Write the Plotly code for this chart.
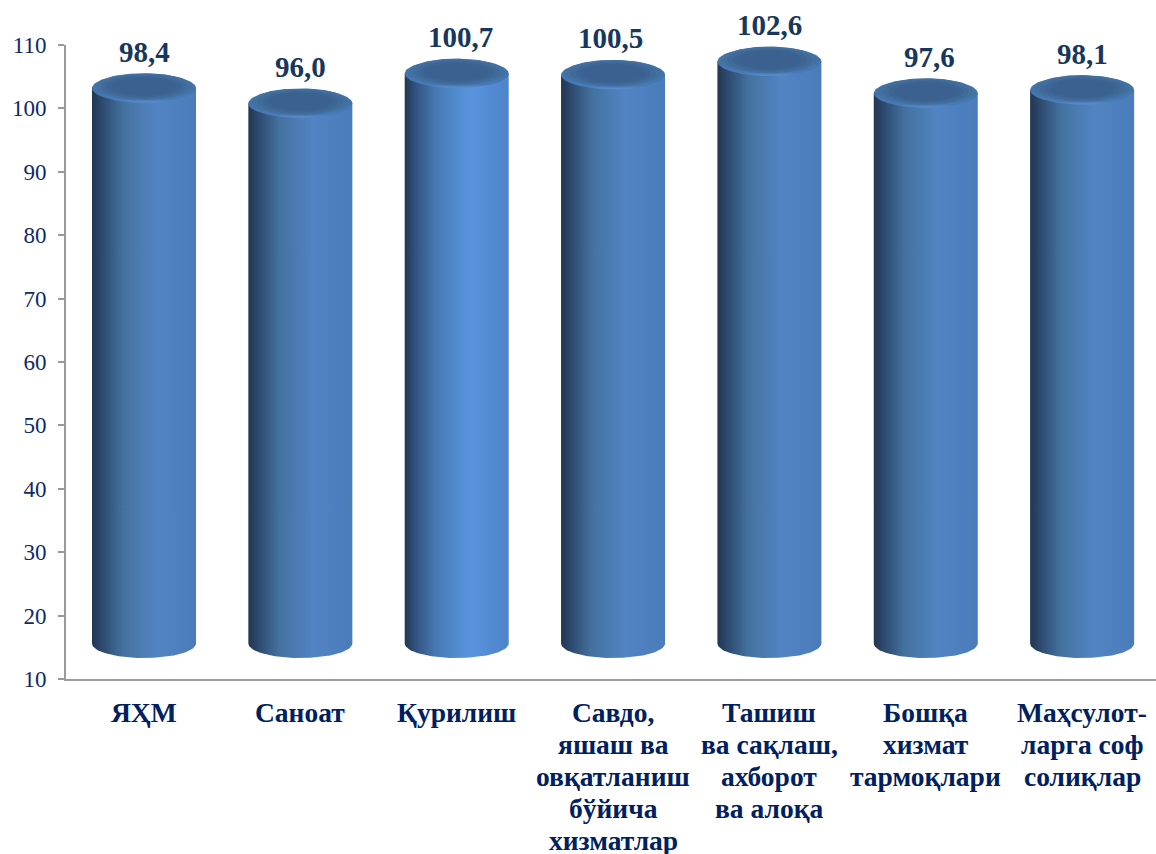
import numpy as np
import plotly.graph_objects as go

category_lines = [
    ["ЯҲМ"],
    ["Саноат"],
    ["Қурилиш"],
    ["Савдо,", "яшаш ва", "овқатланиш", "бўйича", "хизматлар"],
    ["Ташиш", "ва сақлаш,", "ахборот", "ва алоқа"],
    ["Бошқа", "хизмат", "тармоқлари"],
    ["Маҳсулот-", "ларга соф", "солиқлар"],
]
values = [98.4, 96.0, 100.7, 100.5, 102.6, 97.6, 98.1]
labels = ["98,4", "96,0", "100,7", "100,5", "102,6", "97,6", "98,1"]
y_ticks = [10, 20, 30, 40, 50, 60, 70, 80, 90, 100, 110]

DEPTH = 4.8
FLOOR = 15.6
HALF_W = 0.3326
ELL_H = 2.29
LABEL_NUDGE = [0, 0, 4, -3, 0, 4, 0]

body_scale = [[0, "#22364f"], [0.1, "#2d4a70"], [0.3, "#44729f"], [0.62, "#5284c4"], [1, "#4a7cba"]]
bright_body = [[0, "#22364f"], [0.1, "#31517f"], [0.3, "#477ab3"], [0.62, "#5894de"], [1, "#4e84c8"]]
cap_rim = [[0, "#5c90d0"], [0.1, "#477ab8"], [0.5, "#4273a8"], [1, "#4d7aa8"]]
cap_inner = ["#42709f", "#3f6a9a", "#3d6593", "#3b6190"]

t = np.linspace(0, 2 * np.pi, 120)
arc = np.linspace(np.pi, 2 * np.pi, 60)
fig = go.Figure()
for i, v in enumerate(values):
    top = v + DEPTH
    fig.add_trace(go.Scatter(
        x=[i + HALF_W, i - HALF_W] + list(i + HALF_W * np.cos(arc)) + [i + HALF_W],
        y=[top, top] + list(FLOOR + ELL_H * np.sin(arc)) + [top],
        mode="lines", line=dict(width=0), fill="toself",
        fillgradient=dict(type="horizontal", colorscale=bright_body if i == 2 else body_scale),
        hoverinfo="skip", showlegend=False))
    fig.add_trace(go.Scatter(
        x=i + HALF_W * np.cos(t), y=top + ELL_H * np.sin(t),
        mode="lines", line=dict(width=0), fill="toself",
        fillgradient=dict(type="vertical", colorscale=cap_rim),
        hoverinfo="skip", showlegend=False))
    for k, col in enumerate(cap_inner):
        scale = 0.92 - 0.1 * k
        fig.add_trace(go.Scatter(
            x=i + HALF_W * scale * np.cos(t),
            y=top + 0.25 + ELL_H * scale * np.sin(t),
            mode="lines", line=dict(width=0), fill="toself", fillcolor=col,
            hoverinfo="skip", showlegend=False))

annotations = []
for i, v in enumerate(values):
    annotations.append(dict(
        x=i, y=v + DEPTH, xref="x", yref="y", text=labels[i], showarrow=False,
        yanchor="middle", yshift=36.5, xshift=LABEL_NUDGE[i],
        font=dict(family="Liberation Serif", size=29, color="#17375e", weight="bold")))
    for k, line in enumerate(category_lines[i]):
        annotations.append(dict(
            x=i, y=0, xref="x", yref="paper", text=line, showarrow=False,
            yanchor="middle", yshift=-(33 + 32.2 * k),
            font=dict(family="Liberation Serif", size=27.5, color="#002060", weight="bold")))

fig.update_layout(
    width=1156, height=854, margin=dict(l=66, r=0, t=45, b=175, pad=0, autoexpand=False),
    paper_bgcolor="white", plot_bgcolor="white", showlegend=False, annotations=annotations,
    xaxis=dict(range=[-0.4989, 6.4725], showticklabels=False, showgrid=False, zeroline=False,
               showline=True, linecolor="#9a9a9a", linewidth=2, ticks=""),
    yaxis=dict(range=[10, 110], tickmode="array", tickvals=y_ticks, showgrid=False, zeroline=False,
               showline=True, linecolor="#9a9a9a", linewidth=2, ticks="outside", ticklen=6,
               tickwidth=2, tickcolor="#9a9a9a", ticklabelstandoff=7,
               tickfont=dict(family="Liberation Serif", size=23, color="#0f2a66")),
)
fig.write_html("out.html", config=dict(displayModeBar=False),
               post_script="document.body.style.margin='0';document.body.style.overflow='hidden';")
